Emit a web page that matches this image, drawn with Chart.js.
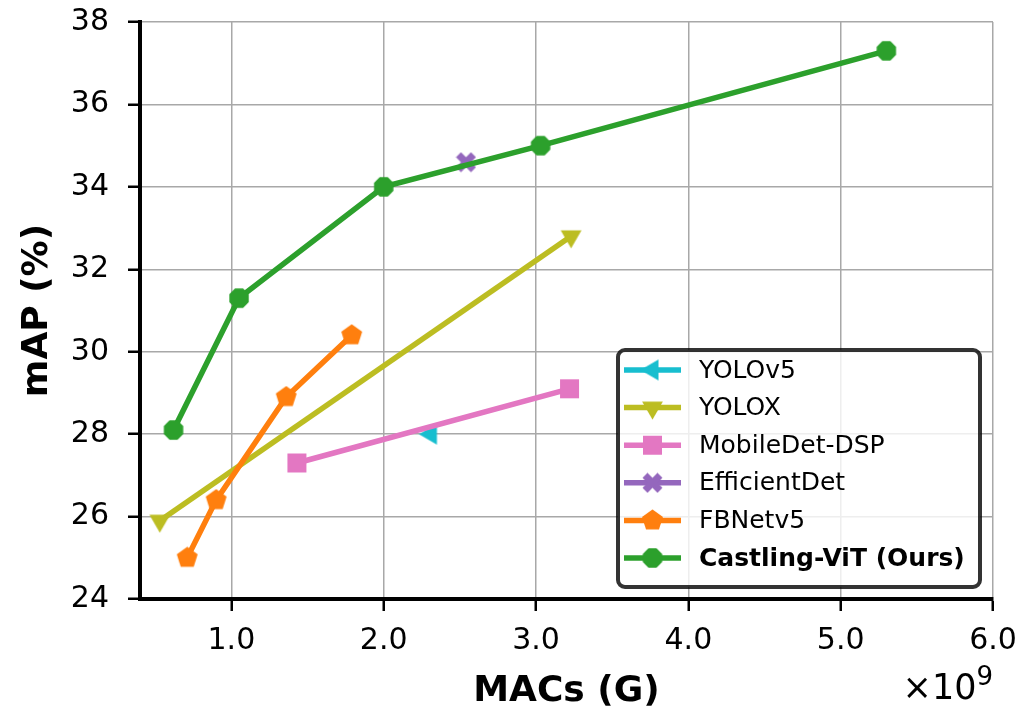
<!DOCTYPE html>
<html>
<head>
<meta charset="utf-8">
<script src="https://cdn.jsdelivr.net/npm/chart.js@4.4.1/dist/chart.umd.min.js"></script>
<style>
  html, body { margin: 0; padding: 0; background: #ffffff; }
  #wrap { width: 1020px; height: 706px; }
</style>
</head>
<body>
<div id="wrap"><canvas id="c" width="1020" height="706"></canvas></div>
<script>
// ---------- data ----------
const seriesNames = ["YOLOv5", "YOLOX", "MobileDet-DSP", "EfficientDet", "FBNetv5", "Castling-ViT (Ours)"];
const yolov5X = [2.31];
const yolov5Y = [28.0];
const yoloxX = [0.53, 3.23];
const yoloxY = [25.9, 32.8];
const mobiledetX = [1.43, 3.22];
const mobiledetY = [27.3, 29.1];
const efficientdetX = [2.54];
const efficientdetY = [34.6];
const fbnetX = [0.71, 0.90, 1.36, 1.79];
const fbnetY = [25.0, 26.4, 28.9, 30.4];
const castlingX = [0.62, 1.05, 2.00, 3.03, 5.30];
const castlingY = [28.1, 31.3, 34.0, 35.0, 37.3];
const xTickValues = [1, 2, 3, 4, 5, 6];
const yTickValues = [24, 26, 28, 30, 32, 34, 36, 38];
const xAxisTitle = "MACs (G)";
const yAxisTitle = "mAP (%)";
const xOffsetText = "×10";
const xOffsetExp = "9";

// ---------- marker images ----------
function makeMarker(shape, color, size) {
  const c = document.createElement('canvas');
  c.width = size; c.height = size;
  const g = c.getContext('2d');
  const cx = size / 2, cy = size / 2, r = size / 2 - 0.5;
  g.fillStyle = color;
  g.beginPath();
  function poly(n, rot) {
    for (let i = 0; i < n; i++) {
      const a = rot + i * 2 * Math.PI / n;
      const px = cx + r * Math.cos(a), py = cy + r * Math.sin(a);
      if (i === 0) g.moveTo(px, py); else g.lineTo(px, py);
    }
    g.closePath();
  }
  if (shape === 'octagon') poly(8, Math.PI / 8);
  else if (shape === 'pentagon') poly(5, -Math.PI / 2);
  else if (shape === 'triLeft') poly(3, Math.PI);
  else if (shape === 'triDown') poly(3, Math.PI / 2);
  else if (shape === 'square') { g.rect(1, 1, size - 2, size - 2); }
  else if (shape === 'xfill') {
    const s = r, t = r * 0.5;
    const pts = [[-s + t, -s], [0, -t], [s - t, -s], [s, -s + t], [t, 0], [s, s - t], [s - t, s], [0, t], [-s + t, s], [-s, s - t], [-t, 0], [-s, -s + t]];
    pts.forEach((p, i) => { if (i === 0) g.moveTo(cx + p[0], cy + p[1]); else g.lineTo(cx + p[0], cy + p[1]); });
    g.closePath();
  }
  g.fill();
  return c;
}

const colors = ['#17becf', '#bcbd22', '#e377c2', '#9467bd', '#ff7f0e', '#2ca02c'];
const markers = [
  makeMarker('triLeft', colors[0], 25),
  makeMarker('triDown', colors[1], 25),
  makeMarker('square', colors[2], 21),
  makeMarker('xfill', colors[3], 21),
  makeMarker('pentagon', colors[4], 23),
  makeMarker('octagon', colors[5], 22)
];

function pts(xs, ys) { return xs.map((x, i) => ({ x: x, y: ys[i] })); }
const allX = [yolov5X, yoloxX, mobiledetX, efficientdetX, fbnetX, castlingX];
const allY = [yolov5Y, yoloxY, mobiledetY, efficientdetY, fbnetY, castlingY];

const datasets = seriesNames.map((name, i) => ({
  label: name,
  data: pts(allX[i], allY[i]),
  borderColor: colors[i],
  backgroundColor: colors[i],
  borderWidth: 5.5,
  pointStyle: markers[i],
  pointRadius: 11,
  pointHoverRadius: 11,
  showLine: true,
  tension: 0,
  order: 5 - i,
  clip: false
}));

const FONT = "'DejaVu Sans', 'Liberation Sans', sans-serif";

// ---------- custom plugin: axis titles, offset text, legend ----------
const decorPlugin = {
  id: 'decor',
  afterDraw(chart) {
    const ctx = chart.ctx;
    const area = chart.chartArea;
    ctx.save();
    // y axis title
    ctx.fillStyle = '#000';
    ctx.font = 'bold 36px ' + FONT;
    ctx.textAlign = 'center';
    ctx.textBaseline = 'middle';
    ctx.save();
    ctx.translate(38, (area.top + area.bottom) / 2);
    ctx.rotate(-Math.PI / 2);
    ctx.fillText(yAxisTitle, 0, 0);
    ctx.restore();
    // x axis title
    ctx.textBaseline = 'alphabetic';
    ctx.fillText(xAxisTitle, (area.left + area.right) / 2, 701);
    // offset text x10^9
    ctx.textAlign = 'right';
    ctx.font = '26px ' + FONT;
    const expW = ctx.measureText(xOffsetExp).width;
    ctx.font = '35px ' + FONT;
    ctx.fillText(xOffsetText, area.right - expW, 699);
    ctx.font = '26px ' + FONT;
    ctx.fillText(xOffsetExp, area.right, 685);

    // legend
    const lx = 618, ly = 350, lw = 362, lh = 237, rad = 7;
    ctx.beginPath();
    ctx.moveTo(lx + rad, ly);
    ctx.arcTo(lx + lw, ly, lx + lw, ly + lh, rad);
    ctx.arcTo(lx + lw, ly + lh, lx, ly + lh, rad);
    ctx.arcTo(lx, ly + lh, lx, ly, rad);
    ctx.arcTo(lx, ly, lx + lw, ly, rad);
    ctx.closePath();
    ctx.fillStyle = 'rgba(255,255,255,0.8)';
    ctx.fill();
    ctx.lineWidth = 4;
    ctx.strokeStyle = 'rgba(0,0,0,0.8)';
    ctx.stroke();
    const rowY0 = 370, rowStep = 37.6;
    seriesNames.forEach((name, i) => {
      const yy = rowY0 + i * rowStep;
      ctx.beginPath();
      ctx.moveTo(624, yy);
      ctx.lineTo(681, yy);
      ctx.strokeStyle = colors[i];
      ctx.lineWidth = 5.5;
      ctx.stroke();
      const m = markers[i];
      ctx.drawImage(m, 652.5 - m.width / 2, yy - m.height / 2);
      ctx.fillStyle = '#000';
      ctx.textAlign = 'left';
      ctx.textBaseline = 'middle';
      ctx.font = (i === seriesNames.length - 1 ? 'bold ' : '') + '25px ' + FONT;
      ctx.fillText(name, 699, yy + 1);
    });
    ctx.restore();
  }
};

new Chart(document.getElementById('c'), {
  type: 'scatter',
  data: { datasets: datasets },
  options: {
    responsive: false,
    animation: false,
    devicePixelRatio: 1,
    layout: { padding: { left: 0, top: 22, right: 27, bottom: 0 } },
    plugins: { legend: { display: false }, tooltip: { enabled: false }, title: { display: false } },
    scales: {
      x: {
        type: 'linear',
        min: 0.4,
        max: 6.0,
        afterBuildTicks: s => { s.ticks = xTickValues.map(v => ({ value: v })); },
        afterFit: s => { s.height = 107; s.paddingLeft = 0; s.paddingRight = 0; },
        ticks: {
          callback: v => Number(v).toFixed(1),
          font: { family: FONT, size: 30 },
          color: '#000',
          padding: 12,
          maxRotation: 0
        },
        grid: { color: '#a8a8a8', lineWidth: 1.5, tickLength: 12, tickColor: '#000', tickWidth: 2.5 },
        border: { color: '#000', width: 4 }
      },
      y: {
        min: 24,
        max: 38,
        afterBuildTicks: s => { s.ticks = yTickValues.map(v => ({ value: v })); },
        afterFit: s => { s.width = 140; s.paddingTop = 0; s.paddingBottom = 0; },
        ticks: {
          callback: v => String(v),
          font: { family: FONT, size: 30 },
          color: '#000',
          padding: 19
        },
        grid: { color: '#a8a8a8', lineWidth: 1.5, tickLength: 12, tickColor: '#000', tickWidth: 2.5 },
        border: { color: '#000', width: 4 }
      }
    }
  },
  plugins: [decorPlugin]
});
</script>
</body>
</html>
